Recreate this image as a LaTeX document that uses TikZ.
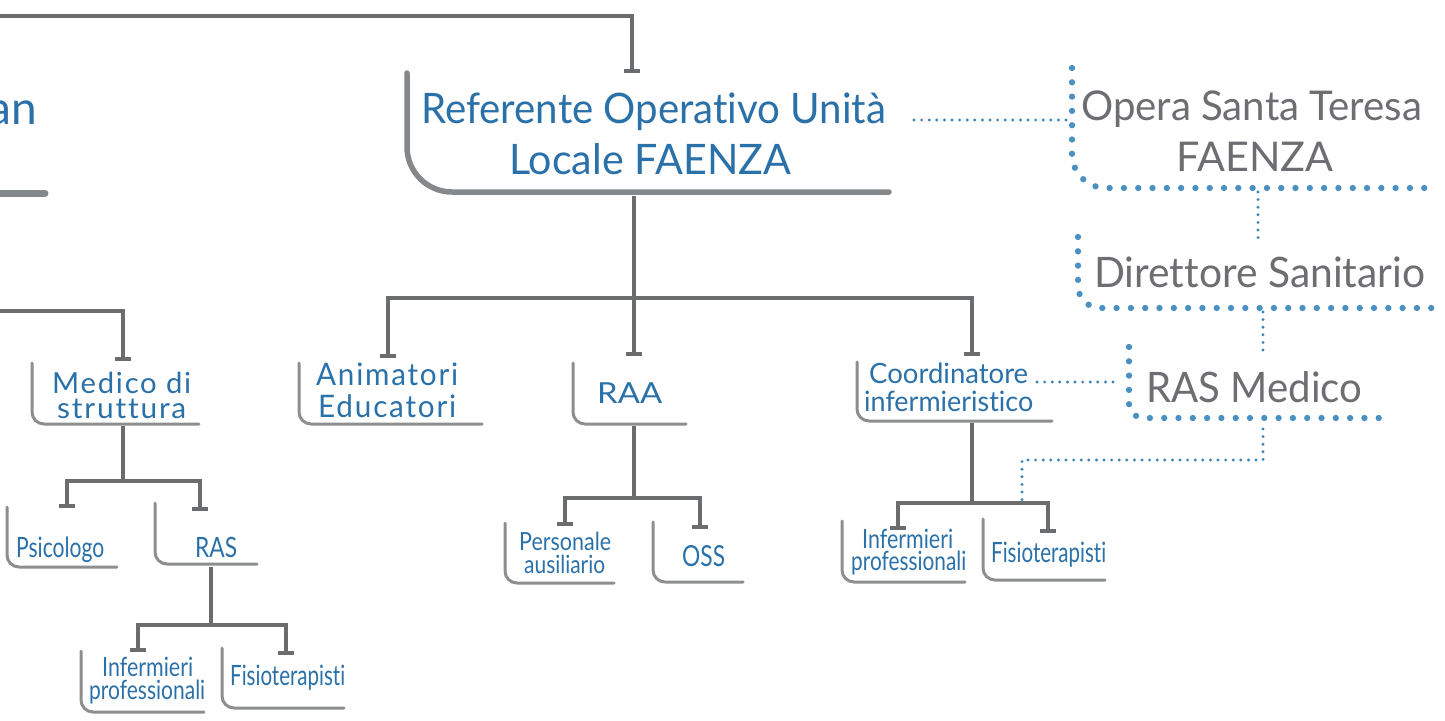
\documentclass[tikz,border=0pt]{standalone}
\usepackage{fontspec}
\setmainfont{Lato}[Ligatures={NoCommon}]
\newfontfamily\latosp{Lato}[LetterSpace=6,Ligatures={NoCommon}]
\usepackage{graphicx}
\usetikzlibrary{arrows.meta}
\definecolor{tblue}{HTML}{2B71A9}
\definecolor{tgray}{HTML}{6D6E71}
\definecolor{cdark}{HTML}{6A6C6D}
\definecolor{clight}{HTML}{8C8E8F}
\definecolor{cbrk}{HTML}{85888A}
\definecolor{cdot}{HTML}{4A90C2}
\definecolor{csdot}{HTML}{3A82BA}
\newcommand\txtline[7][]{\node[inner sep=0pt,anchor=base west,text=#6] (#2) at (#3) {\fontsize{#4}{#4}\selectfont#1\resizebox{#5pt}{\height}{#7}};}
\begin{document}
\begin{tikzpicture}[x=1pt,y=-1pt,
  conn/.style={draw=cdark,line width=3.2pt},
  tee/.style={conn,-{Bar[width=16pt,line width=3.6pt]}},
  brk/.style={draw=clight,line width=3pt,rounded corners=12pt,line cap=round},
  bigbrk/.style={draw=cbrk,line width=5.5pt,rounded corners=45pt,line cap=round},
  bigdots/.style={draw=cdot,line width=6.3pt,line cap=round,dash pattern=on 0pt off 14.3pt},
  smalldots/.style={draw=csdot,line width=3.2pt,line cap=round,dash pattern=on 0pt off 7.6pt}]
\useasboundingbox[fill=white] (0,0) rectangle (1445,720);

% ---------- text nodes ----------
\node[inner sep=0pt,anchor=base east,text=tblue] (prevtxt) at (37,124) {\fontsize{46}{46}\selectfont an};
\txtline{ref1}{421,123}{42}{465}{tblue}{Referente Operativo Unità}
\txtline{ref2}{509,174}{42}{282}{tblue}{Locale FAENZA}
\txtline{op1}{1081,120}{41}{341}{tgray}{Opera Santa Teresa}
\txtline{op2}{1176,171}{41}{157}{tgray}{FAENZA}
\txtline{dir}{1094,287}{42}{331}{tgray}{Direttore Sanitario}
\txtline{rasm}{1146,402}{42}{216}{tgray}{RAS Medico}
\txtline[\latosp]{med1}{52,393}{29}{139}{tblue}{Medico di}
\txtline[\latosp]{med2}{57,418}{29}{129}{tblue}{struttura}
\txtline[\latosp]{ani1}{316,385}{31}{142}{tblue}{Animatori}
\txtline[\latosp]{ani2}{318,417}{31}{138}{tblue}{Educatori}
\txtline{raa}{597,403}{29}{65}{tblue}{RAA}
\txtline{coo1}{869,383}{28}{159}{tblue}{Coordinatore}
\txtline{coo2}{864,411}{28}{169}{tblue}{infermieristico}
\txtline{psi}{16,557}{28}{88}{tblue}{Psicologo}
\txtline{ras}{195,557}{28}{42}{tblue}{RAS}
\txtline{infA1}{102,676}{26.5}{91}{tblue}{Infermieri}
\txtline{infA2}{89,699}{26.5}{116}{tblue}{professionali}
\txtline{fisA}{230,685}{28}{115}{tblue}{Fisioterapisti}
\txtline{per1}{519,550}{25}{92}{tblue}{Personale}
\txtline{per2}{524,573}{25}{81}{tblue}{ausiliario}
\txtline{oss}{682,566}{29}{43}{tblue}{OSS}
\txtline{infB1}{862,548}{26.5}{91}{tblue}{Infermieri}
\txtline{infB2}{851,570}{26.5}{115}{tblue}{professionali}
\txtline{fisB}{991,562}{28}{115}{tblue}{Fisioterapisti}

% ---------- brackets (box outlines) ----------
\draw[draw=cbrk,line width=7pt,line cap=round] (0,193) -- (45,193);
\draw[bigbrk] (407,73) |- (889,192);
\draw[brk] (32,363) |- (199,424);
\draw[brk] (299,363) |- (482,424);
\draw[brk] (573,363) |- (686,424);
\draw[brk] (857,362) |- (1052,421);
\draw[brk] (7,507) |- (117,567);
\draw[brk] (155,503) |- (257,564);
\draw[brk] (81,651) |- (204,712);
\draw[brk] (222,648) |- (344,708);
\draw[brk] (505,523) |- (614,583);
\draw[brk] (653,522) |- (743,582);
\draw[brk] (842,521) |- (965,582);
\draw[brk] (983,519) |- (1105,580);
\draw[bigdots,rounded corners=34pt] (1072,68) |- (1432,188);
\draw[bigdots,rounded corners=22pt] (1078,237) |- (1440,308);
\draw[bigdots,rounded corners=14pt] (1129,347) |- (1388,418);

% ---------- connector end points ----------
\coordinate (topin) at (0,16);
\coordinate (reftop) at (632,73);
\coordinate (refbot) at (634,196);
\coordinate (j1) at (634,298);
\coordinate (anitop) at (388,358);
\coordinate (raatop) at (634,356);
\coordinate (cootop) at (972,356);
\coordinate (leftin) at (0,311);
\coordinate (medtop) at (123,361);
\coordinate (medbot) at (123,426);
\coordinate (j2) at (123,481);
\coordinate (psitop) at (67,508);
\coordinate (rastop) at (200,511);
\coordinate (rasbot) at (211,567);
\coordinate (j3) at (211,625);
\coordinate (infAtop) at (138,652);
\coordinate (fisAtop) at (286,655);
\coordinate (raabot) at (634,426);
\coordinate (j4) at (634,498);
\coordinate (pertop) at (565,526);
\coordinate (osstop) at (700,529);
\coordinate (coobot) at (972,423);
\coordinate (j5) at (972,503);
\coordinate (infBtop) at (898,530);
\coordinate (fisBtop) at (1048,533);

% ---------- solid connectors ----------
\draw[tee] (topin) -| (reftop);
\draw[conn] (refbot) -- (j1);
\draw[tee] (j1) -| (anitop);
\draw[tee] (j1) -- (raatop);
\draw[tee] (j1) -| (cootop);
\draw[tee] (leftin) -| (medtop);
\draw[conn] (medbot) -- (j2);
\draw[tee] (j2) -| (psitop);
\draw[tee] (j2) -| (rastop);
\draw[conn] (rasbot) -- (j3);
\draw[tee] (j3) -| (infAtop);
\draw[tee] (j3) -| (fisAtop);
\draw[conn] (raabot) -- (j4);
\draw[tee] (j4) -| (pertop);
\draw[tee] (j4) -| (osstop);
\draw[conn] (coobot) -- (j5);
\draw[tee] (j5) -| (infBtop);
\draw[tee] (j5) -| (fisBtop);

% ---------- dotted connectors ----------
\coordinate (refR) at (914,120);
\coordinate (opL) at (1067,120);
\coordinate (opB) at (1258,192);
\coordinate (dirT) at (1258,238);
\coordinate (dirB) at (1263,312);
\coordinate (rasmT) at (1263,354);
\coordinate (cooR) at (1037,382);
\coordinate (rasmL) at (1118,382);
\coordinate (rasmB) at (1263,429);
\coordinate (bend) at (1022,460);
\coordinate (fisJ) at (1022,501);
\draw[smalldots] (refR) -- (opL);
\draw[smalldots] (opB) -- (dirT);
\draw[smalldots] (dirB) -- (rasmT);
\draw[smalldots] (cooR) -- (rasmL);
\draw[smalldots] (rasmB) |- (bend) -- (fisJ);
\end{tikzpicture}
\end{document}
